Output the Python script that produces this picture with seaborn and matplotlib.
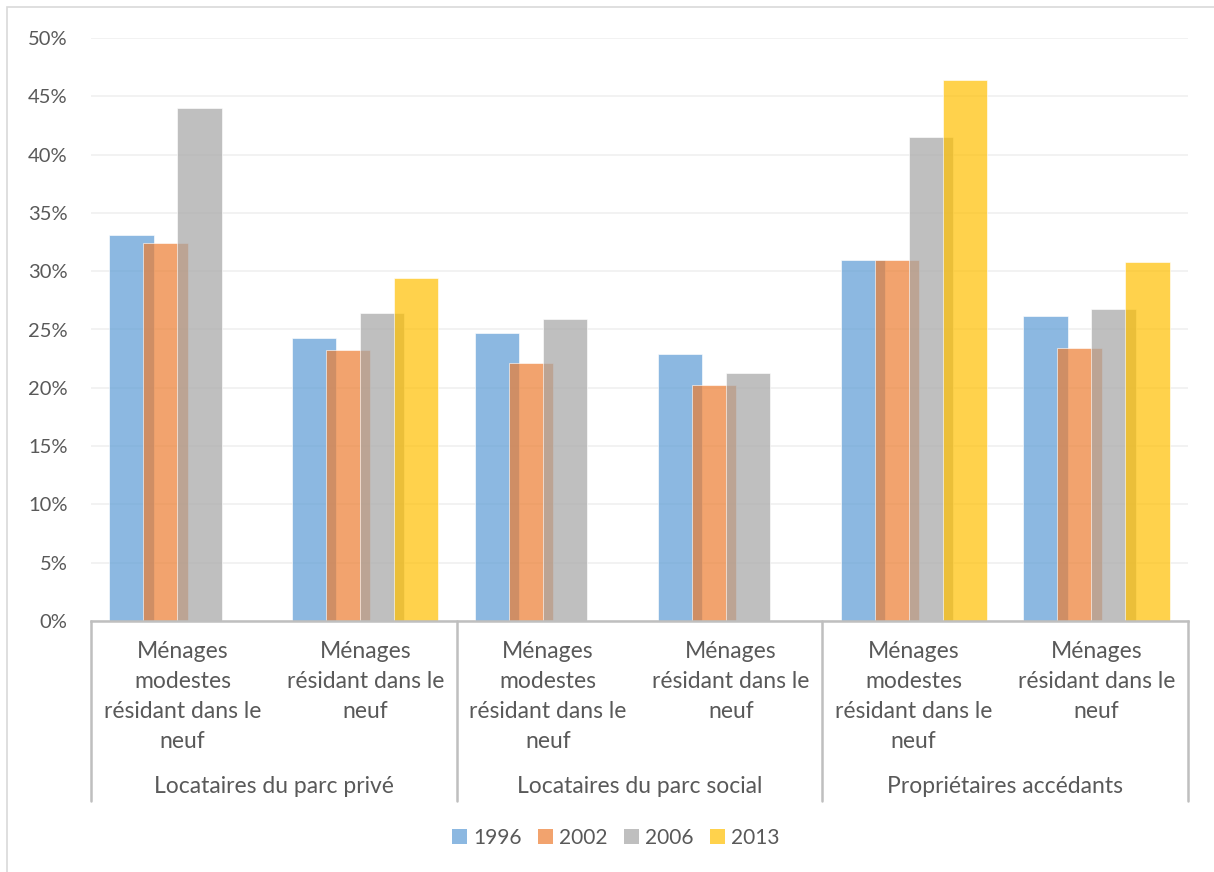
import numpy as np
import pandas as pd
import matplotlib.pyplot as plt
import matplotlib.transforms as mtransforms
from matplotlib.patches import Patch, Rectangle
import seaborn as sns

groups = ["Locataires du parc privé", "Locataires du parc social", "Propriétaires accédants"]
categories = [
    "Ménages\nmodestes\nrésidant dans le\nneuf",
    "Ménages\nrésidant dans le\nneuf",
] * 3
years = ["1996", "2002", "2006", "2013"]
v1996 = [33.1, 24.3, 24.7, 22.9, 31.0, 26.2]
v2002 = [32.4, 23.2, 22.1, 20.2, 31.0, 23.4]
v2006 = [44.0, 26.4, 25.9, 21.3, 41.5, 26.8]
v2013 = [np.nan, 29.4, np.nan, np.nan, 46.4, 30.8]
colors = ["#5B9BD5", "#ED7D31", "#A5A5A5", "#FFC000"]

cat_ids = [f"c{i}" for i in range(len(categories))]
rows = []
for year, vals in zip(years, [v1996, v2002, v2006, v2013]):
    for cid, v in zip(cat_ids, vals):
        if not np.isnan(v):
            rows.append({"cat": cid, "year": year, "val": v})
df = pd.DataFrame(rows)

sns.set_style("white")
plt.rcParams["font.family"] = ["Lato", "DejaVu Sans"]
txt_color = "#595959"
line_color = "#BFBFBF"
lab_size = 16.5
num_size = 14.5

fig = plt.figure(figsize=(12.14, 8.72), dpi=100)
ax = fig.add_axes([91 / 1214, 1 - 621 / 872, (1188 - 91) / 1214, (621 - 38) / 872])

sns.barplot(data=df, x="cat", y="val", hue="year", order=cat_ids, hue_order=years,
            palette=colors, saturation=1, alpha=0.7, width=0.743, dodge=True, legend=False,
            edgecolor="white", linewidth=0.6, ax=ax, errorbar=None)

# Excel-style overlap of bars
for p in ax.patches:
    w = p.get_width()
    nw = w * 0.243 / 0.186
    p.set_x(p.get_x() - (nw - w) / 2)
    p.set_width(nw)

ax.set_xlim(-0.5, len(categories) - 0.5)
ax.set_ylim(0, 50)
ax.set_yticks(range(0, 51, 5))
ax.set_yticklabels([f"{t}%" for t in range(0, 51, 5)], fontsize=num_size, color=txt_color)
ax.tick_params(axis="y", length=0, pad=17)
ax.set_xticks([])
ax.set_xlabel("")
ax.set_ylabel("")
ax.yaxis.grid(True, color="#F0F0F0", linewidth=1.2)
ax.set_axisbelow(True)
for s in ["top", "right", "left"]:
    ax.spines[s].set_visible(False)
ax.spines["bottom"].set_color(line_color)
ax.spines["bottom"].set_linewidth(1.8)

trans = mtransforms.blended_transform_factory(ax.transData, ax.transAxes)
px = 1 / 583
for i, lab in enumerate(categories):
    ax.text(i, -(641 - 621) * px, lab, transform=trans, ha="center", va="top",
            fontsize=lab_size, color=txt_color, linespacing=1.52)
for g, lab in enumerate(groups):
    ax.text(2 * g + 0.5, -(786 - 621) * px, lab, transform=trans, ha="center",
            va="center", fontsize=lab_size, color=txt_color)
for xb in [-0.5, 1.5, 3.5, 5.5]:
    ax.plot([xb, xb], [0, -(801 - 621) * px], transform=trans, color=line_color,
            linewidth=1.8, clip_on=False)

handles = [Patch(facecolor=c, alpha=0.7, edgecolor="none", label=y) for c, y in zip(colors, years)]
fig.legend(handles=handles, loc="center", bbox_to_anchor=(616 / 1214, 1 - 838 / 872),
           ncol=4, frameon=False, fontsize=num_size + 0.5, labelcolor=txt_color,
           handlelength=0.7, handleheight=0.7, handletextpad=0.3, columnspacing=0.8)

fig.patches.append(Rectangle((7 / 1214, -0.1), 1.2, 1 - 7 / 872 + 0.1, transform=fig.transFigure,
                             fill=False, edgecolor="#D9D9D9", linewidth=1.2))

fig.savefig("out.png", dpi=100)
